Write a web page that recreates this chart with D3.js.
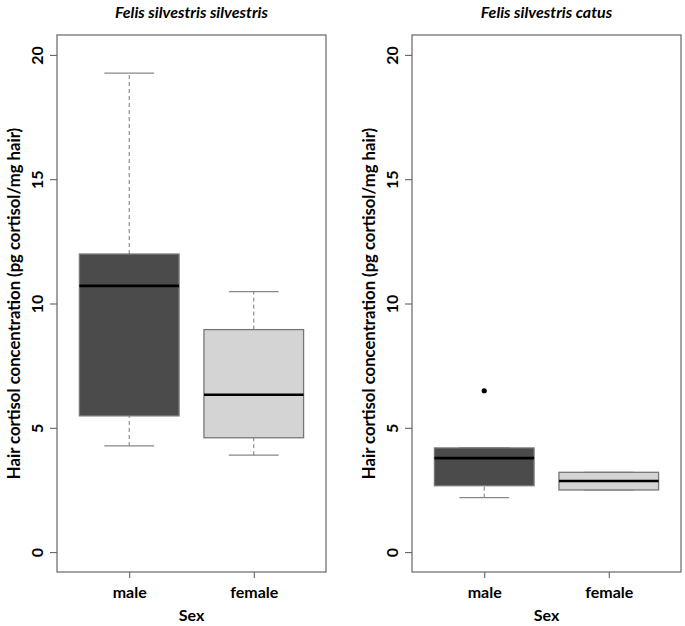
<!DOCTYPE html>
<html><head><meta charset="utf-8">
<script src="https://cdn.jsdelivr.net/npm/d3@7"></script>
<style>body{margin:0;background:#fff}svg{display:block}text{font-family:Lato,"Open Sans",sans-serif}</style>
</head><body>
<svg id="c" width="685" height="626"></svg>
<script>
const panels = ["Felis silvestris silvestris", "Felis silvestris catus"];
const categories = ["male", "female"];
const yTicks = [0, 5, 10, 15, 20];
// stats per panel: [lowerWhisker, q1, median, q3, upperWhisker]
const wildStats = [[4.27, 5.48, 10.71, 11.99, 19.27], [3.9, 4.6, 6.33, 8.95, 10.48]];
const domesticStats = [[2.19, 2.67, 3.78, 4.19, 4.19], [2.5, 2.5, 2.86, 3.21, 3.21]];
const wildOutliers = [[], []];
const domesticOutliers = [[6.49], []];
const boxColors = ["#4b4b4b", "#d4d4d4"];

const svg = d3.select("#c");
const plotTop = 35, plotBottom = 572;
const panelX = [[57, 326], [412, 681]];
const statsList = [wildStats, domesticStats];
const outList = [wildOutliers, domesticOutliers];

panels.forEach((title, p) => {
  const [x0, x1] = panelX[p];
  const y = d3.scaleLinear().domain([-0.8, 20.8]).range([plotBottom, plotTop]);
  const x = d3.scaleLinear().domain([0.42, 2.58]).range([x0, x1]);
  const g = svg.append("g");

  // y axis
  const ya = g.append("g").attr("transform", `translate(${x0},0)`)
    .call(d3.axisLeft(y).tickValues(yTicks).tickSize(7).tickPadding(0).tickFormat(d3.format("d")));
  ya.select(".domain").remove();
  ya.selectAll(".tick line").attr("stroke", "#555");
  ya.selectAll(".tick text").attr("transform", "rotate(-90)").attr("x", 0).attr("y", -20)
    .attr("dy", "0.35em").attr("text-anchor", "middle")
    .style("font-size", "16px").style("font-weight", "bold").attr("fill", "#000");

  // x axis
  const xa = g.append("g").attr("transform", `translate(0,${plotBottom})`)
    .call(d3.axisBottom(x).tickValues([1, 2]).tickSize(6).tickPadding(9).tickFormat((d) => categories[d - 1]));
  xa.select(".domain").remove();
  xa.selectAll(".tick line").attr("stroke", "#555");
  xa.selectAll(".tick text").style("font-size", "16px").style("font-weight", "bold").attr("fill", "#000");

  // boxes
  statsList[p].forEach((s, i) => {
    const cx = x(i + 1);
    const hw = x(0.4) - x(0);
    const cw = x(0.2) - x(0);
    const dash = "4,3";
    g.append("line").attr("x1", cx).attr("x2", cx).attr("y1", y(s[3])).attr("y2", y(s[4]))
      .attr("stroke", "#777").attr("stroke-width", 1).attr("stroke-dasharray", dash);
    g.append("line").attr("x1", cx).attr("x2", cx).attr("y1", y(s[0])).attr("y2", y(s[1]))
      .attr("stroke", "#777").attr("stroke-width", 1).attr("stroke-dasharray", dash);
    [s[0], s[4]].forEach(v => g.append("line").attr("x1", cx - cw).attr("x2", cx + cw)
      .attr("y1", y(v)).attr("y2", y(v)).attr("stroke", "#888").attr("stroke-width", 1.3));
    g.append("rect").attr("x", cx - hw).attr("width", 2 * hw).attr("y", y(s[3]))
      .attr("height", y(s[1]) - y(s[3])).attr("fill", boxColors[i]).attr("stroke", "#777").attr("stroke-width", 1.3);
    g.append("line").attr("x1", cx - hw).attr("x2", cx + hw).attr("y1", y(s[2])).attr("y2", y(s[2]))
      .attr("stroke", "#000").attr("stroke-width", 2.6);
    outList[p][i].forEach(v => g.append("circle").attr("cx", cx).attr("cy", y(v)).attr("r", 2.6).attr("fill", "#000"));
  });

  // frame
  g.append("rect").attr("x", x0).attr("y", plotTop).attr("width", x1 - x0).attr("height", plotBottom - plotTop)
    .attr("fill", "none").attr("stroke", "#666").attr("stroke-width", 1.2);

  // title
  g.append("text").attr("x", (x0 + x1) / 2).attr("y", 18).attr("text-anchor", "middle")
    .style("font-size", "16px").style("font-weight", "bold").style("font-style", "italic").text(title);
  // x label
  g.append("text").attr("x", (x0 + x1) / 2).attr("y", 621).attr("text-anchor", "middle")
    .style("font-size", "16px").style("font-weight", "bold").text("Sex");
  // y label
  g.append("text").attr("transform", `translate(${x0 - 43},${(plotTop + plotBottom) / 2}) rotate(-90)`)
    .attr("text-anchor", "middle").attr("dy", "0.35em")
    .style("font-size", "16.7px").style("font-weight", "bold")
    .text("Hair cortisol concentration (pg cortisol/mg hair)");
});
</script>
</body></html>
